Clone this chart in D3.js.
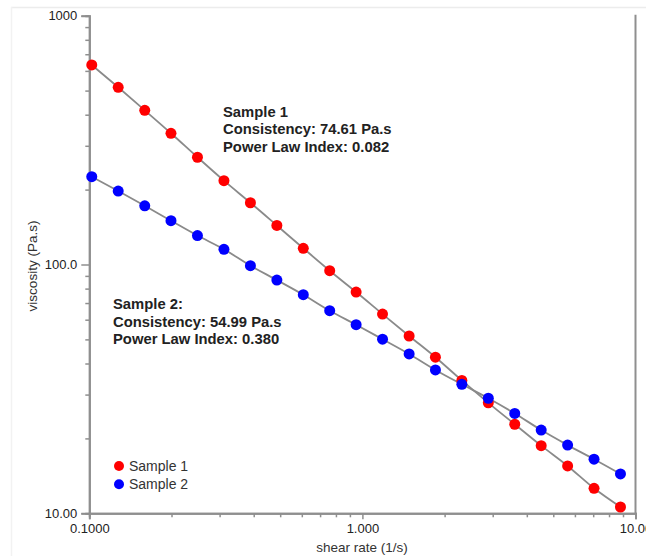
<!DOCTYPE html>
<html>
<head>
<meta charset="utf-8">
<script src="https://cdn.jsdelivr.net/npm/d3@7"></script>
<style>
  html, body { margin: 0; padding: 0; background: #fff; }
  svg { display: block; font-family: "Liberation Sans", Arial, sans-serif; }
</style>
</head>
<body>
<svg id="chart" width="646" height="556"></svg>
<script>
// Shear-rate sweep (1/s), shared by both samples
const shearRate = [0.1021, 0.1276, 0.1596, 0.1991, 0.2489, 0.3112, 0.3890, 0.4862,
  0.6075, 0.7591, 0.9484, 1.185, 1.483, 1.851, 2.313, 2.891, 3.613, 4.515,
  5.642, 7.05, 8.81];

// Viscosity (Pa.s)
const sample1Viscosity = [633.9, 515.5, 416.6, 336.8, 269.8, 217.2, 177.1, 143.5,
  116.2, 94.4, 77.5, 63.2, 51.6, 42.4, 34.2, 27.8, 22.8, 18.7, 15.5, 12.6, 10.6];
const sample2Viscosity = [225.4, 197.4, 172.2, 150.0, 130.7, 115.1, 98.9, 86.6,
  75.6, 65.2, 57.3, 50.1, 43.7, 37.7, 33.0, 29.0, 25.2, 21.6, 18.8, 16.5, 14.4];

const seriesNames = ["Sample 1", "Sample 2"];
const seriesColors = ["#ff0000", "#0000ff"];

// Axis ticks
const xMajorTicks = [0.1, 1, 10];
const xMajorLabels = ["0.1000", "1.000", "10.00"];
const yMajorTicks = [10, 100, 1000];
const yMajorLabels = ["10.00", "100.0", "1000"];

const xTitle = "shear rate (1/s)";
const yTitle = "viscosity (Pa.s)";

// Power-law fit notes
const note1 = ["Sample 1", "Consistency: 74.61 Pa.s", "Power Law Index: 0.082"];
const note2 = ["Sample 2:", "Consistency: 54.99 Pa.s", "Power Law Index: 0.380"];

const svg = d3.select("#chart");

const plot = { left: 89.3, right: 635.5, top: 15.7, bottom: 513.3 };

const x = d3.scaleLog().domain([0.1, 10]).range([plot.left, plot.right]);
const y = d3.scaleLog().domain([10, 1000]).range([plot.bottom, plot.top]);

// faint page frame
svg.append("line").attr("x1", 11).attr("x2", 646).attr("y1", 7.5).attr("y2", 7.5)
  .attr("stroke", "#ececec").attr("stroke-width", 1.5);
svg.append("line").attr("x1", 11.5).attr("x2", 11.5).attr("y1", 7).attr("y2", 556)
  .attr("stroke", "#f2f2f2").attr("stroke-width", 1.5);

// minor tick values: 2..9 in each decade
function minorTicks(scale) {
  const [a, b] = scale.domain();
  const out = [];
  for (let d = a; d < b; d *= 10) {
    for (let k = 2; k <= 9; k++) out.push(d * k);
  }
  return out;
}

const axisColor = "#8f8f8f";

// x axis
const xAxisMinor = d3.axisBottom(x).tickValues(minorTicks(x)).tickSize(4).tickFormat("");
const xAxisMajor = d3.axisBottom(x).tickValues(xMajorTicks).tickSize(6)
  .tickFormat((d, i) => xMajorLabels[i]).tickPadding(8);

const gxMinor = svg.append("g").attr("transform", `translate(0,${plot.bottom})`).call(xAxisMinor);
const gxMajor = svg.append("g").attr("transform", `translate(0,${plot.bottom})`).call(xAxisMajor);

// y axis
const yAxisMinor = d3.axisLeft(y).tickValues(minorTicks(y)).tickSize(4).tickFormat("");
const yAxisMajor = d3.axisLeft(y).tickValues(yMajorTicks).tickSize(8)
  .tickFormat((d, i) => yMajorLabels[i]).tickPadding(4);

const gyMinor = svg.append("g").attr("transform", `translate(${plot.left},0)`).call(yAxisMinor);
const gyMajor = svg.append("g").attr("transform", `translate(${plot.left},0)`).call(yAxisMajor);

[gxMinor, gxMajor, gyMinor, gyMajor].forEach(g => {
  g.select(".domain").attr("stroke", axisColor).attr("stroke-width", 2);
  g.selectAll(".tick line").attr("stroke", axisColor).attr("stroke-width", 1.5);
  g.selectAll(".tick text")
    .attr("fill", "#222")
    .style("font-size", "13px")
    .style("font-family", '"Liberation Sans", Arial, sans-serif');
});
gxMajor.selectAll(".tick text").attr("dy", "0.71em").attr("y", 10);

// right frame line
svg.append("line")
  .attr("x1", plot.right).attr("x2", plot.right)
  .attr("y1", plot.top - 1).attr("y2", plot.bottom)
  .attr("stroke", axisColor).attr("stroke-width", 2);

// axis titles
svg.append("text")
  .attr("x", (plot.left + plot.right) / 2 - 0.5)
  .attr("y", 552)
  .attr("text-anchor", "middle")
  .attr("fill", "#333")
  .style("font-size", "13.5px")
  .text(xTitle);

svg.append("text")
  .attr("transform", `translate(36.5,266) rotate(-90)`)
  .attr("text-anchor", "middle")
  .attr("fill", "#333")
  .style("font-size", "13.5px")
  .text(yTitle);

// series
const series = [sample1Viscosity, sample2Viscosity].map((vals, i) => ({
  name: seriesNames[i],
  color: seriesColors[i],
  points: shearRate.map((s, j) => ({ s, v: vals[j] }))
}));

const line = d3.line()
  .x(d => x(d.s))
  .y(d => y(d.v))
  .curve(d3.curveMonotoneX);

svg.append("g").selectAll("path")
  .data(series)
  .join("path")
  .attr("d", d => line(d.points))
  .attr("fill", "none")
  .attr("stroke", "#8a8a8a")
  .attr("stroke-width", 1.8);

series.forEach(sr => {
  svg.append("g").selectAll("circle")
    .data(sr.points)
    .join("circle")
    .attr("cx", d => x(d.s))
    .attr("cy", d => y(d.v))
    .attr("r", 5.5)
    .attr("fill", sr.color);
});

// fit annotations
function note(lines, x0, y0) {
  const t = svg.append("text")
    .attr("fill", "#222")
    .style("font-size", "14.8px")
    .style("font-weight", "bold");
  lines.forEach((s, i) => {
    t.append("tspan").attr("x", x0).attr("y", y0 + i * 17.5).text(s);
  });
}
note(note1, 223, 116.5);
note(note2, 113, 309.3);

// legend
const legend = svg.append("g");
series.forEach((sr, i) => {
  const cy = 466 + i * 18.3;
  legend.append("circle").attr("cx", 119).attr("cy", cy).attr("r", 5).attr("fill", sr.color);
  legend.append("text")
    .attr("x", 129).attr("y", cy + 5)
    .attr("fill", "#333")
    .style("font-size", "14px")
    .text(sr.name);
});
</script>
</body>
</html>
